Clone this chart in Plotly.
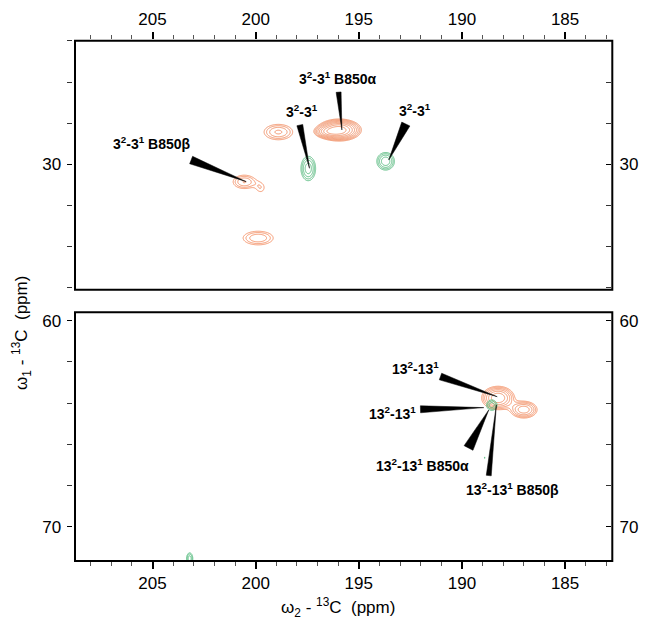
import math
import numpy as np
import plotly.graph_objects as go

# ---------------- data ----------------
# peaks: (omega2 ppm, omega1 ppm, width2, width1, intensity)
top_orange_peaks = [
    (195.95, 28.33, 0.50, 0.25, 1.00),
    (196.50, 28.42, 0.35, 0.15, 0.35),
    (198.90, 28.43, 0.50, 0.27, 0.26),
    (200.55, 30.85, 0.40, 0.24, 0.25),
    (199.75, 31.15, 0.22, 0.25, 0.12),
    (199.88, 33.58, 0.55, 0.25, 0.24),
]
top_green_peaks = [
    (197.45, 30.20, 0.24, 0.40, 0.30),
    (193.70, 29.85, 0.28, 0.28, 0.32),
]
bottom_orange_peaks = [
    (188.25, 63.75, 0.42, 0.30, 0.60),
    (187.00, 64.32, 0.38, 0.24, 0.42),
]
bottom_green_peaks_a = [
    (188.55, 64.10, 0.20, 0.20, 0.22),
    (188.90, 66.65, 0.03, 0.08, 0.11),
]
bottom_green_peaks_b = [
    (203.20, 71.55, 0.12, 0.22, 0.22),
]

x_ticks = [205, 200, 195, 190, 185]
top_y_ticks = [30]
bot_y_ticks = [60, 70]

top_labels = ["3<sup>2</sup>-3<sup>1</sup> B850α", "3<sup>2</sup>-3<sup>1</sup>",
              "3<sup>2</sup>-3<sup>1</sup>", "3<sup>2</sup>-3<sup>1</sup> B850β"]
bot_labels = ["13<sup>2</sup>-13<sup>1</sup>", "13<sup>2</sup>-13<sup>1</sup>",
              "13<sup>2</sup>-13<sup>1</sup> B850α", "13<sup>2</sup>-13<sup>1</sup> B850β"]

# ---------------- layout geometry ----------------
OFF = 8                      # page body margin of the browser
W, H = 648 - OFF, 626 - OFF
ML, MR, MT, MB = 52, 22, 28, 52
PW, PH = W - ML - MR, H - MT - MB


def fx(px):
    return (px - OFF - ML) / PW


def fy(py):
    return (H - MB - (py - OFF)) / PH


BOX_L, BOX_R = 75, 612.3
TOP_T, TOP_B = 40.7, 289.7
BOT_T, BOT_B = 312.3, 561.0

X_RANGE = [208.76, 182.71]
TOP_RANGE = [36.09, 23.99]
BOT_RANGE = [71.67, 59.59]

# annotation placement (ppm coordinates)
top_label_pos = [(196.0, 25.81), (197.74, 27.41), (192.26, 27.36), (205.02, 28.97)]
top_wedge_base = [(195.98, 26.49), (197.86, 28.09), (192.72, 28.04), (203.13, 29.79)]
top_wedge_tip = [(195.82, 28.33), (197.39, 30.19), (193.55, 29.79), (200.46, 30.84)]
top_wedge_w = [5, 6, 9, 8]
bot_label_pos = [(192.26, 62.30), (193.37, 64.48), (191.92, 67.0), (187.55, 68.17)]
bot_wedge_base = [(191.04, 62.71), (192.01, 64.30), (189.68, 66.18), (188.70, 67.52)]
bot_wedge_tip = [(188.29, 63.69), (188.94, 64.22), (188.70, 64.33), (188.33, 64.09)]
bot_wedge_w = [7, 7, 10, 5]

ORANGE = "#F3936A"
GREEN = "#5DBE84"
FONT = "Liberation Sans, Arial, sans-serif"


def spectrum(peaks, step=0.03, pad=3.5):
    x0 = min(p[0] - pad * p[2] for p in peaks)
    x1 = max(p[0] + pad * p[2] for p in peaks)
    y0 = min(p[1] - pad * p[3] for p in peaks)
    y1 = max(p[1] + pad * p[3] for p in peaks)
    xs = np.arange(x0, x1 + step, step)
    ys = np.arange(y0, y1 + step / 2, step / 2)
    X, Y = np.meshgrid(xs, ys)
    Z = np.zeros_like(X)
    for (cx, cy, sx, sy, a) in peaks:
        Z += a * np.exp(-0.5 * (((X - cx) / sx) ** 2 + ((Y - cy) / sy) ** 2))
    Z = np.log(Z + 1e-6)
    return np.round(xs, 3), np.round(ys, 3), np.round(Z, 3)


def contour(peaks, color, xa, ya):
    xs, ys, Z = spectrum(peaks)
    return go.Contour(
        x=xs, y=ys, z=Z, xaxis=xa, yaxis=ya,
        contours=dict(coloring="lines", start=math.log(0.1), end=0.0,
                      size=math.log(1.35)),
        line=dict(width=1, color=color, smoothing=1),
        colorscale=[[0, color], [1, color]], showscale=False,
        hoverinfo="skip",
    )


fig = go.Figure()
fig.add_trace(contour(top_orange_peaks, ORANGE, "x2", "y2"))
fig.add_trace(contour(top_green_peaks, GREEN, "x2", "y2"))
fig.add_trace(contour(bottom_orange_peaks, ORANGE, "x", "y"))
fig.add_trace(contour(bottom_green_peaks_a, GREEN, "x", "y"))
fig.add_trace(contour(bottom_green_peaks_b, GREEN, "x", "y"))
# invisible traces so the right-hand axes exist
fig.add_trace(go.Scatter(x=[195], y=[65], xaxis="x", yaxis="y3", mode="markers",
                         marker=dict(opacity=0), hoverinfo="skip", showlegend=False))
fig.add_trace(go.Scatter(x=[195], y=[30], xaxis="x2", yaxis="y4", mode="markers",
                         marker=dict(opacity=0), hoverinfo="skip", showlegend=False))

xdom = [fx(BOX_L), fx(BOX_R)]
top_dom = [fy(TOP_B), fy(TOP_T)]
bot_dom = [fy(BOT_B), fy(BOT_T)]
tickfont = dict(family=FONT, size=17, color="black")

xcommon = dict(range=X_RANGE, domain=xdom, anchor="free", tickmode="array",
               tickvals=x_ticks, ticks="outside", ticklen=7, tickwidth=1.5,
               tickcolor="black", showgrid=False, zeroline=False, showline=False,
               tickfont=tickfont, fixedrange=True, automargin=False,
               minor=dict(dtick=1, tick0=185, ticks="outside", ticklen=4,
                          tickwidth=1, tickcolor="#555", showgrid=False))


def ycommon(rng, dom, ticks, tick0, pos, side, inside):
    return dict(range=rng, domain=dom, anchor="free", position=pos, side=side,
                tickmode="array", tickvals=ticks,
                ticks="inside" if inside else "outside", ticklen=5, tickwidth=1.2,
                tickcolor="black", showgrid=False, zeroline=False, showline=False,
                tickfont=tickfont, ticklabelstandoff=8 if inside else 2,
                fixedrange=True, automargin=False,
                minor=dict(dtick=2, tick0=tick0, ticks="inside" if inside else "outside",
                           ticklen=5, tickwidth=1, tickcolor="#333", showgrid=False))


fig.update_layout(
    width=W, height=H, margin=dict(l=ML, r=MR, t=MT, b=MB, autoexpand=False),
    paper_bgcolor="white", plot_bgcolor="white", showlegend=False,
    xaxis=dict(**xcommon, position=fy(BOT_B), side="bottom"),
    xaxis2=dict(**xcommon, position=fy(38.5), side="top"),
    yaxis=ycommon(BOT_RANGE, bot_dom, bot_y_ticks, 60, fx(71.5), "left", False),
    yaxis3=dict(**ycommon(BOT_RANGE, bot_dom, bot_y_ticks, 60, fx(610.5), "right", True),
                overlaying="y"),
    yaxis2=ycommon(TOP_RANGE, top_dom, top_y_ticks, 24, fx(71.5), "left", False),
    yaxis4=dict(**ycommon(TOP_RANGE, top_dom, top_y_ticks, 24, fx(610.5), "right", True),
                overlaying="y2"),
)

shapes = []
for xa, ya in (("x2", "y2"), ("x", "y")):
    shapes.append(dict(type="rect", xref=f"{xa} domain", yref=f"{ya} domain",
                       x0=0, x1=1, y0=0, y1=1, line=dict(color="black", width=2),
                       layer="above"))


def make_mapper(yrange, ytop, ybot):
    def to_px(x, y):
        px = BOX_L + (x - X_RANGE[0]) / (X_RANGE[1] - X_RANGE[0]) * (BOX_R - BOX_L)
        py = ybot + (y - yrange[0]) / (yrange[1] - yrange[0]) * (ytop - ybot)
        return px, py

    def to_data(px, py):
        x = X_RANGE[0] + (px - BOX_L) / (BOX_R - BOX_L) * (X_RANGE[1] - X_RANGE[0])
        y = yrange[0] + (py - ybot) / (ytop - ybot) * (yrange[1] - yrange[0])
        return x, y
    return to_px, to_data


annotations = []


def add_labels(labels, pos, base, tip, widths, xa, ya, yrange, ytop, ybot):
    to_px, to_data = make_mapper(yrange, ytop, ybot)
    for text, (lx, ly), (bx, by), (tx, ty), w in zip(labels, pos, base, tip, widths):
        annotations.append(dict(x=lx, y=ly, xref=xa, yref=ya, text=f"<b>{text}</b>",
                                showarrow=False, xanchor="center", yanchor="middle",
                                font=dict(family=FONT, size=14, color="black")))
        bpx, bpy = to_px(bx, by)
        tpx, tpy = to_px(tx, ty)
        dx, dy = tpx - bpx, tpy - bpy
        L = math.hypot(dx, dy)
        nx, ny = -dy / L * w / 2, dx / L * w / 2
        p1 = to_data(bpx + nx, bpy + ny)
        p2 = to_data(bpx - nx, bpy - ny)
        path = f"M {p1[0]},{p1[1]} L {p2[0]},{p2[1]} L {tx},{ty} Z"
        shapes.append(dict(type="path", path=path, xref=xa, yref=ya,
                           fillcolor="black", line=dict(color="black", width=0.5),
                           layer="above"))


add_labels(top_labels, top_label_pos, top_wedge_base, top_wedge_tip, top_wedge_w,
           "x2", "y2", TOP_RANGE, TOP_T, TOP_B)
add_labels(bot_labels, bot_label_pos, bot_wedge_base, bot_wedge_tip, bot_wedge_w,
           "x", "y", BOT_RANGE, BOT_T, BOT_B)

annotations.append(dict(x=fx(338), y=fy(607), xref="paper", yref="paper",
                        xanchor="center", yanchor="middle",
                        text="ω<sub>2</sub> - <sup>13</sup>C  (ppm)", showarrow=False,
                        font=dict(family=FONT, size=17, color="black")))
annotations.append(dict(x=fx(22), y=fy(333), xref="paper", yref="paper",
                        xanchor="center", yanchor="middle",
                        text="ω<sub>1</sub> - <sup>13</sup>C  (ppm)", showarrow=False,
                        textangle=-90, font=dict(family=FONT, size=17, color="black")))

fig.update_layout(shapes=shapes, annotations=annotations)
fig.write_html("out.html")
